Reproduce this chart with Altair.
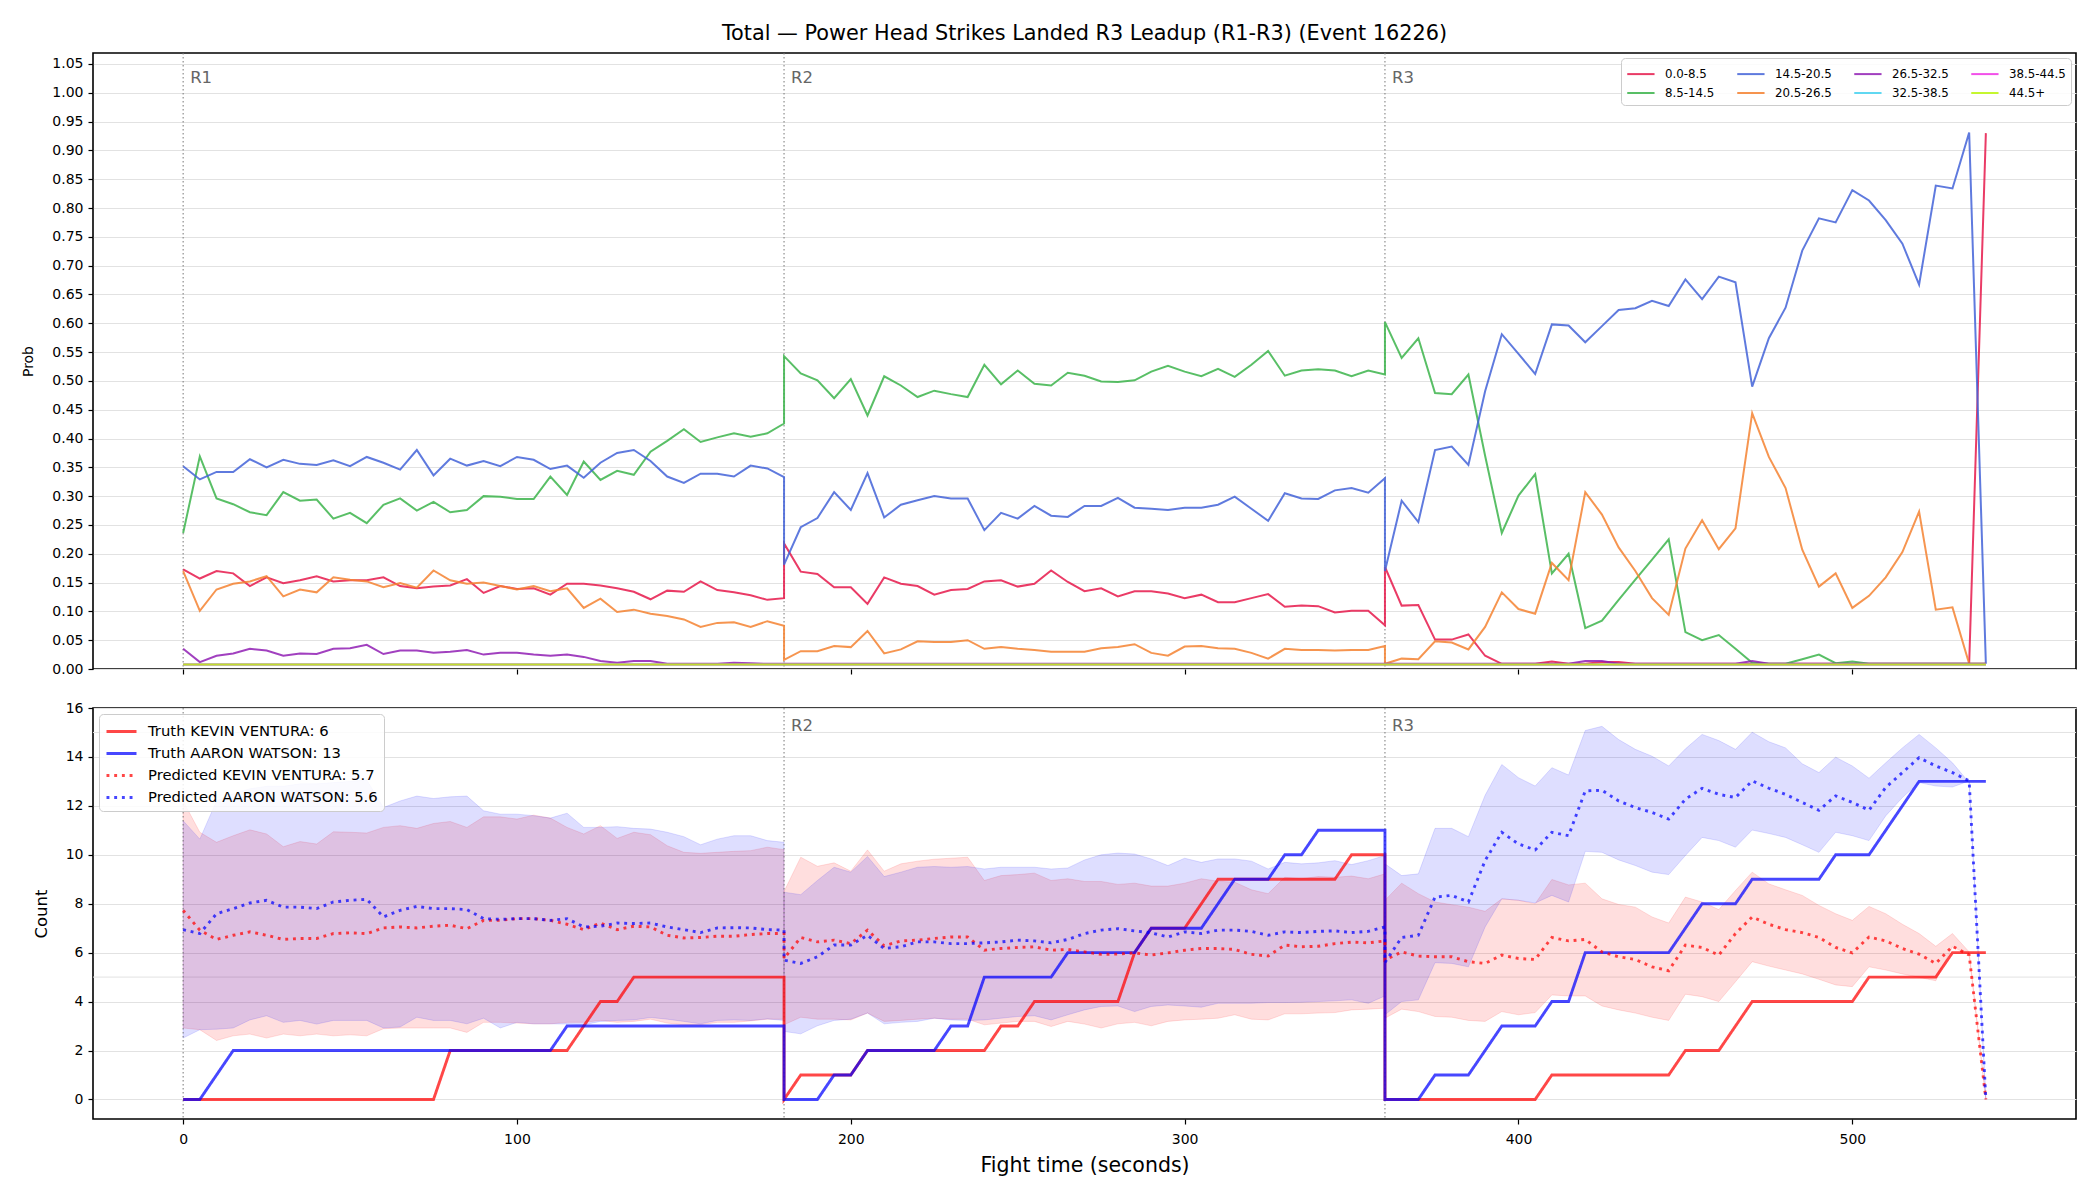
import altair as alt
import pandas as pd

# ---- timing: one sample every 5 s, 37 samples per round (0..180 s inside each round)
round_starts = [0, 180, 360]
round_labels = ["R1", "R2", "R3"]
step_seconds = 5
samples_per_round = 37
times = [s + step_seconds * k for s in round_starts for k in range(samples_per_round)]

# ---- top panel: probability of each total bucket
bucket_labels = ["0.0-8.5", "8.5-14.5", "14.5-20.5", "20.5-26.5",
                 "26.5-32.5", "32.5-38.5", "38.5-44.5", "44.5+"]
bucket_colors = ["#e6194b", "#3cb44b", "#4363d8", "#f58231",
                 "#911eb4", "#46d2f0", "#f032e6", "#bcf60c"]

p_0_8 = (
    [0.173, 0.157, 0.170, 0.166, 0.144, 0.159, 0.149, 0.154, 0.161, 0.152, 0.154, 0.154, 0.159,
     0.144, 0.140, 0.143, 0.145, 0.156, 0.132, 0.144, 0.139, 0.140, 0.129, 0.148, 0.148, 0.145,
     0.140, 0.134, 0.121, 0.136, 0.134, 0.152, 0.137, 0.133, 0.128, 0.120, 0.123]
    + [0.218, 0.169, 0.165, 0.142, 0.142, 0.113, 0.159, 0.148, 0.144, 0.129, 0.137, 0.139, 0.152,
       0.154, 0.143, 0.148, 0.171, 0.151, 0.135, 0.140, 0.126, 0.135, 0.135, 0.131, 0.123, 0.129,
       0.116, 0.116, 0.123, 0.130, 0.108, 0.110, 0.109, 0.098, 0.101, 0.101, 0.076]
    + [0.177, 0.110, 0.111, 0.051, 0.051, 0.060, 0.023, 0.009, 0.009, 0.009, 0.013, 0.009, 0.009,
       0.012, 0.012, 0.009, 0.009, 0.009, 0.009, 0.009, 0.009, 0.009, 0.009, 0.009, 0.009, 0.009,
       0.009, 0.009, 0.009, 0.009, 0.009, 0.009, 0.009, 0.009, 0.009, 0.009, 0.930]
)
p_8_14 = (
    [0.236, 0.369, 0.296, 0.286, 0.272, 0.267, 0.307, 0.292, 0.294, 0.261, 0.271, 0.253, 0.285,
     0.296, 0.275, 0.290, 0.272, 0.276, 0.300, 0.299, 0.295, 0.295, 0.334, 0.302, 0.360, 0.328,
     0.344, 0.337, 0.377, 0.396, 0.416, 0.394, 0.402, 0.409, 0.403, 0.409, 0.426]
    + [0.543, 0.513, 0.501, 0.470, 0.503, 0.440, 0.508, 0.492, 0.472, 0.483, 0.477, 0.472, 0.528,
       0.494, 0.518, 0.495, 0.492, 0.514, 0.509, 0.499, 0.498, 0.501, 0.516, 0.526, 0.516, 0.508,
       0.521, 0.507, 0.528, 0.552, 0.509, 0.518, 0.520, 0.518, 0.508, 0.518, 0.511]
    + [0.602, 0.540, 0.574, 0.479, 0.477, 0.511, 0.370, 0.236, 0.301, 0.338, 0.166, 0.200, 0.071,
       0.084, 0.120, 0.155, 0.190, 0.225, 0.064, 0.050, 0.059, 0.035, 0.011, 0.009, 0.009, 0.017,
       0.025, 0.010, 0.013, 0.009, 0.009, 0.009, 0.009, 0.009, 0.009, 0.009, 0.009]
)
p_14_20 = (
    [0.352, 0.329, 0.342, 0.342, 0.364, 0.350, 0.363, 0.356, 0.354, 0.362, 0.352, 0.368, 0.358,
     0.346, 0.380, 0.336, 0.365, 0.353, 0.361, 0.352, 0.368, 0.363, 0.347, 0.353, 0.332, 0.358,
     0.375, 0.380, 0.361, 0.334, 0.323, 0.339, 0.339, 0.334, 0.353, 0.348, 0.333]
    + [0.181, 0.246, 0.262, 0.307, 0.276, 0.340, 0.263, 0.285, 0.293, 0.300, 0.296, 0.296, 0.241,
       0.271, 0.261, 0.283, 0.266, 0.264, 0.283, 0.283, 0.297, 0.280, 0.278, 0.276, 0.280, 0.280,
       0.285, 0.299, 0.278, 0.257, 0.305, 0.296, 0.295, 0.310, 0.314, 0.306, 0.331]
    + [0.170, 0.292, 0.255, 0.380, 0.386, 0.354, 0.482, 0.581, 0.547, 0.512, 0.598, 0.596, 0.567,
       0.595, 0.623, 0.626, 0.639, 0.630, 0.676, 0.642, 0.681, 0.671, 0.490, 0.574, 0.627, 0.726,
       0.782, 0.775, 0.831, 0.813, 0.779, 0.738, 0.667, 0.839, 0.834, 0.931, 0.009]
)
p_20_26 = (
    [0.170, 0.101, 0.138, 0.148, 0.152, 0.161, 0.126, 0.138, 0.133, 0.159, 0.155, 0.152, 0.142,
     0.149, 0.141, 0.171, 0.154, 0.148, 0.150, 0.144, 0.138, 0.144, 0.135, 0.140, 0.106, 0.122,
     0.099, 0.103, 0.096, 0.092, 0.086, 0.073, 0.080, 0.081, 0.073, 0.083, 0.075]
    + [0.016, 0.031, 0.031, 0.040, 0.038, 0.066, 0.027, 0.034, 0.048, 0.047, 0.047, 0.050, 0.035,
       0.038, 0.035, 0.033, 0.030, 0.030, 0.030, 0.036, 0.038, 0.043, 0.028, 0.023, 0.039, 0.040,
       0.036, 0.035, 0.028, 0.018, 0.035, 0.033, 0.033, 0.032, 0.033, 0.033, 0.040]
    + [0.009, 0.018, 0.017, 0.048, 0.046, 0.034, 0.073, 0.133, 0.104, 0.096, 0.184, 0.154, 0.307,
       0.268, 0.211, 0.170, 0.123, 0.094, 0.209, 0.258, 0.208, 0.244, 0.444, 0.368, 0.314, 0.207,
       0.143, 0.166, 0.106, 0.127, 0.159, 0.203, 0.273, 0.103, 0.107, 0.009, 0.009]
)
p_26_32 = (
    [0.035, 0.012, 0.023, 0.027, 0.035, 0.032, 0.023, 0.027, 0.026, 0.035, 0.036, 0.042, 0.026,
     0.032, 0.032, 0.028, 0.030, 0.033, 0.025, 0.028, 0.028, 0.025, 0.023, 0.025, 0.021, 0.014,
     0.011, 0.014, 0.014, 0.009, 0.009, 0.009, 0.009, 0.011, 0.010, 0.009, 0.009]
    + [0.009] * 37
    + [0.009, 0.009, 0.009, 0.009, 0.009, 0.009, 0.009, 0.009, 0.009, 0.009, 0.009, 0.009, 0.014,
       0.014, 0.009, 0.009, 0.009, 0.009, 0.009, 0.009, 0.009, 0.009, 0.014, 0.009, 0.009, 0.009,
       0.009, 0.009, 0.009, 0.009, 0.009, 0.009, 0.009, 0.009, 0.009, 0.009, 0.009]
)
p_32_38 = [0.008] * 111
p_38_44 = [0.008] * 111
p_44_up = [0.008] * 111
bucket_series = [p_0_8, p_8_14, p_14_20, p_20_26, p_26_32, p_32_38, p_38_44, p_44_up]

prob_ticks = [0.00, 0.05, 0.10, 0.15, 0.20, 0.25, 0.30, 0.35, 0.40, 0.45, 0.50,
              0.55, 0.60, 0.65, 0.70, 0.75, 0.80, 0.85, 0.90, 0.95, 1.00, 1.05]
time_ticks = [0, 100, 200, 300, 400, 500]
count_ticks = [0, 2, 4, 6, 8, 10, 12, 14, 16]
count_guides = [5, 15]

# ---- bottom panel: cumulative counts per fighter
fighters = ["KEVIN VENTURA", "AARON WATSON"]
fighter_colors = ["#ff0000", "#0000ff"]
final_truth = [6, 13]
final_pred = [5.7, 5.6]

truth_kevin = (
    [0, 0, 0, 0, 0, 0, 0, 0, 0, 0, 0, 0, 0, 0, 0, 0, 2, 2, 2, 2, 2, 2, 2, 2, 3, 4, 4, 5, 5, 5, 5,
     5, 5, 5, 5, 5, 5]
    + [0, 1, 1, 1, 1, 2, 2, 2, 2, 2, 2, 2, 2, 3, 3, 4, 4, 4, 4, 4, 4, 6, 7, 7, 7, 8, 9, 9, 9, 9, 9,
       9, 9, 9, 10, 10, 10]
    + [0, 0, 0, 0, 0, 0, 0, 0, 0, 0, 1, 1, 1, 1, 1, 1, 1, 1, 2, 2, 2, 3, 4, 4, 4, 4, 4, 4, 4, 5, 5,
       5, 5, 5, 6, 6, 6]
)
truth_aaron = (
    [0, 0, 1, 2, 2, 2, 2, 2, 2, 2, 2, 2, 2, 2, 2, 2, 2, 2, 2, 2, 2, 2, 2, 3, 3, 3, 3, 3, 3, 3, 3,
     3, 3, 3, 3, 3, 3]
    + [0, 0, 0, 1, 1, 2, 2, 2, 2, 2, 3, 3, 5, 5, 5, 5, 5, 6, 6, 6, 6, 6, 7, 7, 7, 7, 8, 9, 9, 9, 10,
       10, 11, 11, 11, 11, 11]
    + [0, 0, 0, 1, 1, 1, 2, 3, 3, 3, 4, 4, 6, 6, 6, 6, 6, 6, 7, 8, 8, 8, 9, 9, 9, 9, 9, 10, 10, 10,
       11, 12, 13, 13, 13, 13, 13]
)
pred_kevin = (
    [7.73, 6.92, 6.54, 6.71, 6.85, 6.71, 6.54, 6.58, 6.58, 6.78, 6.81, 6.78, 7.01, 7.05, 7.01,
     7.08, 7.12, 6.98, 7.32, 7.32, 7.39, 7.39, 7.32, 7.16, 6.94, 7.21, 6.94, 7.08, 7.05, 6.71,
     6.60, 6.62, 6.67, 6.67, 6.74, 6.78, 6.78]
    + [5.76, 6.62, 6.44, 6.51, 6.37, 6.92, 6.28, 6.48, 6.51, 6.58, 6.64, 6.64, 6.10, 6.17, 6.21,
       6.24, 6.10, 6.13, 6.03, 5.93, 5.94, 5.99, 5.90, 5.99, 6.10, 6.17, 6.17, 6.13, 5.93, 5.86,
       6.31, 6.24, 6.26, 6.37, 6.43, 6.40, 6.48]
    + [5.70, 6.03, 5.86, 5.83, 5.83, 5.63, 5.56, 5.90, 5.76, 5.72, 6.62, 6.48, 6.54, 6.03, 5.83,
       5.72, 5.42, 5.26, 6.31, 6.21, 5.90, 6.78, 7.46, 7.16, 6.94, 6.82, 6.62, 6.21, 5.99, 6.64,
       6.48, 6.17, 5.94, 5.56, 6.26, 5.90, 0.0]
)
pred_aaron = (
    [6.94, 6.78, 7.59, 7.80, 8.03, 8.14, 7.86, 7.86, 7.80, 8.07, 8.14, 8.18, 7.46, 7.73, 7.89,
     7.80, 7.80, 7.76, 7.39, 7.36, 7.39, 7.39, 7.32, 7.39, 7.05, 7.08, 7.21, 7.19, 7.21, 7.05,
     6.94, 6.82, 7.01, 7.02, 7.01, 6.94, 6.92]
    + [5.69, 5.56, 5.83, 6.31, 6.31, 6.71, 6.17, 6.24, 6.44, 6.44, 6.37, 6.37, 6.40, 6.44, 6.51,
       6.48, 6.40, 6.54, 6.78, 6.92, 6.98, 6.89, 6.81, 6.64, 6.85, 6.78, 6.92, 6.92, 6.87, 6.71,
       6.85, 6.82, 6.87, 6.89, 6.82, 6.87, 7.05]
    + [5.60, 6.62, 6.71, 8.27, 8.34, 8.07, 9.76, 10.92, 10.44, 10.20, 10.92, 10.78, 12.61, 12.64,
       12.20, 11.93, 11.73, 11.46, 12.27, 12.72, 12.47, 12.34, 13.02, 12.72, 12.47, 12.14, 11.82,
       12.41, 12.14, 11.82, 12.75, 13.36, 13.97, 13.63, 13.36, 13.02, 0.0]
)
band_kevin_hi = (
    [12.20, 10.92, 10.51, 10.78, 11.02, 10.85, 10.33, 10.54, 10.44, 10.94, 10.92, 10.89, 11.12,
     11.19, 11.08, 11.28, 11.36, 11.12, 11.55, 11.55, 11.46, 11.62, 11.50, 11.12, 10.85, 11.19,
     10.67, 10.92, 10.82, 10.37, 10.10, 10.06, 10.10, 10.14, 10.17, 10.31, 10.21]
    + [8.50, 9.90, 9.53, 9.67, 9.33, 10.20, 9.33, 9.63, 9.74, 9.82, 9.86, 9.90, 8.95, 9.15, 9.19,
       9.25, 8.95, 9.02, 8.91, 8.91, 8.79, 8.84, 8.72, 8.72, 8.84, 9.02, 8.92, 8.88, 8.57, 8.41,
       9.08, 9.02, 9.11, 9.08, 9.13, 9.02, 9.22]
    + [8.14, 8.84, 8.41, 8.07, 7.96, 7.86, 7.69, 8.20, 8.14, 8.00, 8.99, 8.77, 8.84, 8.20, 7.97,
       7.86, 7.46, 7.21, 8.27, 8.07, 7.76, 8.54, 9.29, 8.81, 8.57, 8.34, 7.93, 7.59, 7.32, 7.89,
       7.59, 7.16, 6.78, 6.26, 6.78, 6.03, 0.0]
)
band_kevin_lo = (
    [2.92, 2.85, 2.41, 2.60, 2.67, 2.51, 2.67, 2.60, 2.67, 2.60, 2.64, 2.60, 2.89, 2.92, 2.92,
     2.92, 2.92, 2.74, 3.15, 3.15, 3.12, 3.09, 3.09, 3.15, 3.15, 3.23, 3.15, 3.19, 3.28, 3.12,
     3.05, 3.05, 3.15, 3.15, 3.21, 3.28, 3.28]
    + [3.05, 3.36, 3.28, 3.28, 3.25, 3.53, 3.19, 3.23, 3.28, 3.32, 3.28, 3.28, 3.05, 3.12, 3.19,
       3.19, 2.98, 3.19, 3.08, 2.92, 3.09, 3.15, 3.01, 3.19, 3.25, 3.28, 3.32, 3.46, 3.28, 3.25,
       3.50, 3.50, 3.53, 3.55, 3.66, 3.69, 3.73]
    + [3.32, 3.69, 3.59, 3.39, 3.36, 3.23, 3.19, 3.59, 3.46, 3.55, 4.27, 4.23, 4.23, 3.82, 3.66,
       3.53, 3.36, 3.23, 4.30, 4.20, 4.00, 4.81, 5.63, 5.45, 5.29, 5.13, 4.91, 4.68, 4.61, 5.42,
       5.29, 5.13, 4.99, 4.85, 6.24, 5.90, 0.0]
)
band_aaron_hi = (
    [11.39, 10.64, 12.20, 12.50, 12.70, 12.80, 12.80, 12.90, 12.90, 12.95, 13.00, 13.06, 11.93,
     12.20, 12.40, 12.30, 12.37, 12.40, 11.80, 11.66, 11.66, 11.60, 11.50, 11.70, 11.12, 11.12,
     11.15, 11.08, 11.05, 10.92, 10.74, 10.41, 10.64, 10.78, 10.78, 10.58, 10.51]
    + [8.47, 8.37, 8.95, 9.49, 9.29, 9.93, 9.11, 9.29, 9.49, 9.52, 9.49, 9.52, 9.42, 9.49, 9.49,
       9.49, 9.42, 9.46, 9.79, 10.00, 10.07, 10.03, 9.83, 9.56, 9.86, 9.69, 9.83, 9.83, 9.74,
       9.42, 9.69, 9.63, 9.67, 9.76, 9.60, 9.76, 9.97]
    + [9.63, 9.15, 9.22, 11.08, 11.08, 10.74, 12.43, 13.69, 13.15, 12.81, 13.56, 13.26, 15.08,
       15.25, 14.71, 14.31, 14.03, 13.63, 14.33, 14.92, 14.67, 14.31, 15.01, 14.62, 14.37, 13.72,
       13.36, 13.99, 13.63, 13.13, 13.76, 14.37, 14.92, 14.37, 13.76, 12.95, 0.0]
)
band_aaron_lo = (
    [2.51, 2.85, 2.87, 2.92, 3.25, 3.42, 3.15, 3.23, 3.08, 3.23, 3.23, 3.23, 2.92, 2.96, 3.36,
     3.23, 3.23, 3.09, 3.32, 2.92, 3.15, 3.09, 3.09, 3.08, 3.05, 3.19, 3.23, 3.25, 3.35, 3.28,
     3.19, 3.09, 3.23, 3.25, 3.23, 3.29, 3.23]
    + [2.78, 2.68, 3.01, 3.23, 3.28, 3.53, 3.09, 3.15, 3.19, 3.32, 3.25, 3.23, 3.25, 3.32, 3.39,
       3.42, 3.25, 3.46, 3.66, 3.80, 3.82, 3.59, 3.80, 3.86, 3.82, 3.77, 3.93, 3.93, 3.93, 3.96,
       3.96, 3.97, 4.00, 4.03, 4.07, 3.93, 4.23]
    + [3.46, 4.00, 4.07, 5.59, 5.56, 5.42, 7.05, 8.20, 8.14, 8.03, 8.34, 8.07, 10.14, 10.10,
       9.79, 9.56, 9.29, 9.19, 9.97, 10.71, 10.58, 10.31, 11.01, 10.87, 10.71, 10.41, 10.10,
       10.92, 10.78, 10.58, 11.59, 12.34, 12.95, 12.81, 12.77, 13.02, 0.0]
)

TITLE = "Total \u2014 Power Head Strikes Landed R3 Leadup (R1-R3) (Event 16226)"
FONT = "DejaVu Sans"
GRID = "#e2e2e2"
X_DOMAIN = [-27, 567]
W = 1983
# legend handles: flat strokes that reach further right than the nominal symbol box,
# so a small symbol size keeps the rows compact while the handle stays long
TOP_HANDLE = "M-1,0H1.8"
BOTTOM_HANDLE = "M-1,0H2"

# ---------------- tables ----------------
prob_rows = []
for label, series in zip(bucket_labels, bucket_series):
    for i, (t, v) in enumerate(zip(times, series)):
        prob_rows.append({"bucket": label, "t": t, "prob": v, "idx": i})
prob_df = pd.DataFrame(prob_rows)

series_names = [f"Truth {fighters[0]}: {final_truth[0]}",
                f"Truth {fighters[1]}: {final_truth[1]}",
                f"Predicted {fighters[0]}: {final_pred[0]}",
                f"Predicted {fighters[1]}: {final_pred[1]}"]
count_rows = []
for name, series in zip(series_names, [truth_kevin, truth_aaron, pred_kevin, pred_aaron]):
    for i, (t, v) in enumerate(zip(times, series)):
        count_rows.append({"series": name, "t": t, "count": v, "idx": i})
count_df = pd.DataFrame(count_rows)

band_rows = []
for f, lo, hi in [(fighters[0], band_kevin_lo, band_kevin_hi),
                  (fighters[1], band_aaron_lo, band_aaron_hi)]:
    for i, t in enumerate(times):
        band_rows.append({"fighter": f, "round": round_labels[i // samples_per_round],
                          "t": t, "lo": lo[i], "hi": hi[i]})
band_df = pd.DataFrame(band_rows)

rounds_df = pd.DataFrame({"t": round_starts, "label": round_labels})
guides_df = pd.DataFrame({"y": count_guides})

x_scale = alt.Scale(domain=X_DOMAIN, nice=False, zero=False)
x_top_axis = alt.Axis(values=time_ticks, labels=False, title=None, grid=False,
                      domain=False, tickSize=5)
x_bot_axis = alt.Axis(values=time_ticks, title="Fight time (seconds)", grid=False,
                      domain=False, tickSize=5, labelFontSize=14, titleFontSize=20.5,
                      labelPadding=8, titlePadding=9)
x_top = alt.X("t:Q", scale=x_scale, axis=x_top_axis)
x_bot = alt.X("t:Q", scale=x_scale, axis=x_bot_axis)

# ---------------- top panel ----------------
prob_scale = alt.Scale(domain=[0, 1.069], nice=False, zero=False)
y_prob_axis = alt.Axis(values=prob_ticks, format=".2f", title="Prob", titleFontSize=13.9,
                       labelFontSize=14, titlePadding=16, grid=True, gridColor=GRID,
                       domain=False, tickSize=5, labelPadding=5, labelOverlap=False)

prob_lines = alt.Chart(prob_df).mark_line(strokeWidth=2, opacity=0.85).encode(
    x=x_top,
    y=alt.Y("prob:Q", scale=prob_scale, axis=y_prob_axis),
    color=alt.Color("bucket:N", sort=bucket_labels,
                    scale=alt.Scale(domain=bucket_labels, range=bucket_colors),
                    legend=alt.Legend(title=None, orient="top-right", offset=5, columns=4,
                                      columnPadding=18, rowPadding=1, labelFontSize=11.8,
                                      symbolType=TOP_HANDLE, symbolSize=380,
                                      symbolStrokeWidth=2, labelOffset=17,
                                      fillColor="rgba(255,255,255,0.85)",
                                      strokeColor="#cccccc", cornerRadius=4, padding=5,
                                      labelLimit=0)),
    order=alt.Order("idx:Q"),
)
top_rules = alt.Chart(rounds_df).mark_rule(color="#777777", strokeDash=[1.5, 2.5],
                                           strokeWidth=1).encode(x=x_top)
top_text = alt.Chart(rounds_df).mark_text(align="left", baseline="middle", dx=7, fontSize=16.5,
                                          color="#666666").encode(
    x=x_top, y=alt.YDatum(1.025, scale=prob_scale, axis=y_prob_axis), text="label:N")

top = alt.layer(top_rules, prob_lines, top_text).properties(
    width=W, height=616,
    title=alt.Title(TITLE, fontSize=20.8, fontWeight="normal", anchor="middle",
                    frame="group", offset=8, font=FONT),
)

# ---------------- bottom panel ----------------
count_scale = alt.Scale(domain=[-0.8, 16], nice=False, zero=False)
y_count_axis = alt.Axis(values=count_ticks, title="Count", titleFontSize=16.5, labelFontSize=14,
                        titlePadding=16, grid=True, gridColor=GRID, domain=False, tickSize=5,
                        labelPadding=5)

guides = alt.Chart(guides_df).mark_rule(color=GRID, strokeWidth=1).encode(
    y=alt.Y("y:Q", scale=count_scale, axis=y_count_axis))

bands = []
for f, c in zip(fighters, fighter_colors):
    bands.append(
        alt.Chart(band_df).transform_filter(alt.datum.fighter == f).mark_area(
            fill=c, fillOpacity=0.13, stroke=c, strokeOpacity=0.12, strokeWidth=1
        ).encode(x=x_bot, y=alt.Y("lo:Q", scale=count_scale, axis=y_count_axis),
                 y2="hi:Q", detail="round:N")
    )

series_legend = alt.Legend(title=None, orient="top-left", offset=6, labelFontSize=14.8,
                           symbolType=BOTTOM_HANDLE, symbolSize=400, symbolStrokeWidth=2.9,
                           rowPadding=3, labelOffset=20, labelLimit=0,
                           fillColor="rgba(255,255,255,0.85)", strokeColor="#cccccc",
                           cornerRadius=4, padding=6)

count_lines = alt.Chart(count_df).mark_line(strokeWidth=2.9, strokeCap="butt").encode(
    x=x_bot,
    y=alt.Y("count:Q", scale=count_scale, axis=y_count_axis),
    color=alt.Color("series:N", sort=series_names,
                    scale=alt.Scale(domain=series_names, range=fighter_colors + fighter_colors),
                    legend=series_legend),
    strokeDash=alt.StrokeDash("series:N", sort=series_names, scale=alt.Scale(
        domain=series_names, range=[[1, 0], [1, 0], [2.9, 4.8], [2.9, 4.8]]),
        legend=series_legend),
    opacity=alt.Opacity("series:N", sort=series_names, scale=alt.Scale(
        domain=series_names, range=[0.72, 0.72, 0.6, 0.6]), legend=series_legend),
    order=alt.Order("idx:Q"),
)

bot_rules = alt.Chart(rounds_df).mark_rule(color="#777777", strokeDash=[1.5, 2.5],
                                           strokeWidth=1).encode(x=x_bot)
# the first round label sits under the legend box, so only the later ones are written
bot_text = alt.Chart(rounds_df).transform_filter(alt.datum.t > 0).mark_text(
    align="left", baseline="middle", dx=7, fontSize=16.5, color="#666666").encode(
    x=x_bot, y=alt.YDatum(15.25, scale=count_scale, axis=y_count_axis), text="label:N")

bottom = alt.layer(guides, *bands, bot_rules, count_lines, bot_text).properties(
    width=W, height=411
)

chart = alt.vconcat(top, bottom, spacing=23).resolve_scale(
    color="independent", strokeDash="independent", opacity="independent",
    x="independent", y="independent"
).properties(
    padding={"left": 21, "top": 21, "right": 22, "bottom": 5},
    background="white",
).configure(font=FONT).configure_view(
    stroke="black", strokeWidth=1.6
).configure_axis(
    tickColor="black", labelColor="black", titleColor="black", tickWidth=1.2,
    labelFont=FONT, titleFont=FONT, titleFontWeight="normal"
).configure_legend(labelFont=FONT)

chart.save("out.html", embed_options={"renderer": "svg", "actions": False})
